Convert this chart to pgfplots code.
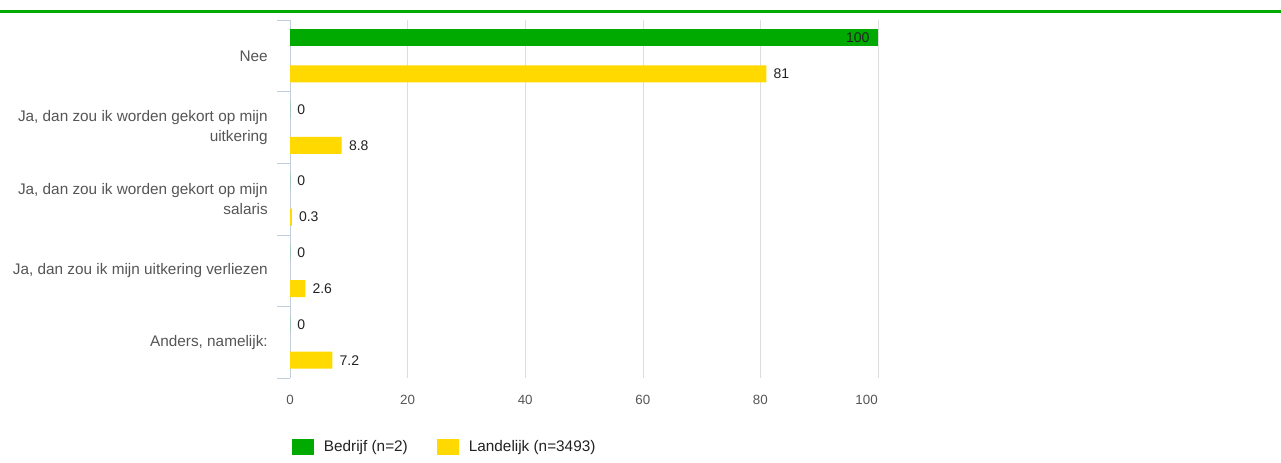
\documentclass[border=0pt]{standalone}
\usepackage{fontspec}
\setmainfont{Liberation Sans}
\usepackage{pgfplots}
\pgfplotsset{compat=1.18}
\definecolor{cBedrijf}{HTML}{00AA00}
\definecolor{cLandelijk}{HTML}{FFD900}
\definecolor{cAxis}{HTML}{C3CEDC}
\definecolor{cGrid}{HTML}{DDDDDD}
\definecolor{cLabel}{HTML}{555555}
\definecolor{cValue}{HTML}{222222}

\begin{document}
\begin{tikzpicture}[x=0.75pt,y=0.75pt]
	% canvas 1281 x 463 px, 1px = 0.75pt
	\path[use as bounding box] (0,0) rectangle (1281,463);
	\fill[cBedrijf] (0,450) rectangle (1281,453);
	\begin{axis}[
		at={(217.5pt,63.75pt)}, anchor=south west,
		scale only axis,
		width=441pt, height=268.5pt,
		xbar,
		bar width=12.75pt,
		xmin=0, xmax=100,
		ymin=-0.5, ymax=4.5,
		y dir=reverse,
		/pgf/number format/assume math mode=true,
		axis x line*=bottom,
		axis y line*=left,
		x axis line style={draw=none},
		y axis line style={draw=cAxis},
		xtick={0,20,40,60,80},
		extra x ticks={100},
		extra x tick labels={100},
		extra x tick style={grid=major, xticklabel style={anchor=north east}},
		xmajorgrids,
		major grid style={draw=cGrid},
		xticklabel style={font=\fontsize{10}{12}\selectfont, text=cLabel, inner sep=0pt, yshift=-12.5pt},
		ytick={0,1,2,3,4},
		yticklabels={
			Nee,
			{Ja, dan zou ik worden gekort op mijn\\uitkering},
			{Ja, dan zou ik worden gekort op mijn\\salaris},
			{Ja, dan zou ik mijn uitkering verliezen},
			{Anders, namelijk:}},
		minor ytick={-0.5,0.5,1.5,2.5,3.5,4.5},
		tick align=outside,
		major tick length=0pt,
		minor tick length=9.75pt,
		minor y tick style={draw=cAxis},
		yticklabel style={font=\fontsize{11.5}{15}\selectfont, text=cLabel, align=right, inner sep=0pt, xshift=-16.5pt},
		nodes near coords,
		nodes near coords align={horizontal},
		every node near coord/.style={anchor=west, inner sep=0pt, xshift=5.25pt, text=cValue, font=\fontsize{10.5}{12}\selectfont},
		legend style={at={(0.0034,-0.165)}, anchor=north west, draw=none, inner sep=0pt,
			legend columns=-1, font=\fontsize{11.5}{13}\selectfont, text=cValue,
			/tikz/every odd column/.append style={column sep=5.25pt},
			/tikz/every even column/.append style={column sep=20pt}},
		legend cell align=left,
		legend image code/.code={\fill[#1] (0pt,-6pt) rectangle (16.5pt,6pt);},
		]
		% Bedrijf (n=2)
		\addplot[fill=cBedrijf, draw=none, bar shift=13.5pt,
			every node near coord/.append style={anchor=east, xshift=-11.5pt, yshift=13.5pt}]
			coordinates {(100,0)};
		\addlegendentry{Bedrijf (n=2)}
		\addplot[fill=cBedrijf, draw=none, bar shift=13.5pt, forget plot,
			every node near coord/.append style={yshift=13.5pt}]
			coordinates {(0,1) (0,2) (0,3) (0,4)};
		% Landelijk (n=3493)
		\addplot[fill=cLandelijk, draw=none, bar shift=-13.5pt,
			every node near coord/.append style={yshift=-13.5pt}]
			coordinates {(81,0) (8.8,1) (0.3,2) (2.6,3) (7.2,4)};
		\addlegendentry{Landelijk (n=3493)}
	\end{axis}
\end{tikzpicture}
\end{document}
